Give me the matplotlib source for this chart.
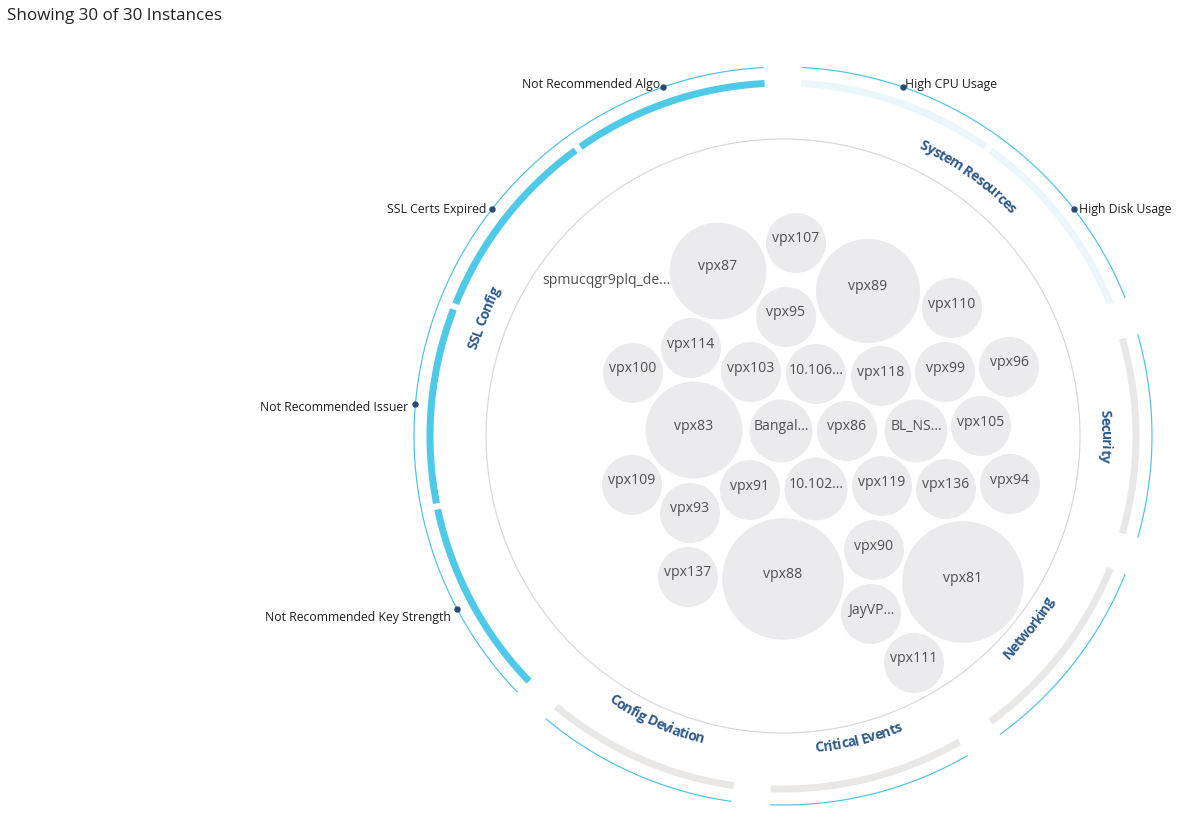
import numpy as np
import matplotlib.pyplot as plt
from matplotlib.font_manager import FontProperties
from matplotlib.textpath import TextToPath
from matplotlib.patches import Circle

# canvas in pixels, chart centre
W, H = 1185, 816
CX, CY = 783, 436
PT = 0.72  # px -> pt at dpi 100

# ---- data ----
categories = ['System Resources', 'Security', 'Networking',
              'Critical Events', 'Config Deviation', 'SSL Config']
indicators = [['High CPU Usage', 'High Disk Usage'],
              ['Security'],
              ['Networking'],
              ['Critical Events'],
              ['Config Deviation'],
              ['Not Recommended Key Strength', 'Not Recommended Issuer',
               'SSL Certs Expired', 'Not Recommended Algo']]
category_state = ['low', 'none', 'none', 'none', 'none', 'high']

bubble_names = ['vpx87', 'vpx107', 'vpx89', 'vpx110', 'spmucqgr9plq_de...',
                'vpx95', 'vpx114', 'vpx100', 'vpx103', '10.106...', 'vpx118',
                'vpx99', 'vpx96', 'vpx83', 'Bangal...', 'vpx86', 'BL_NS...',
                'vpx105', 'vpx109', 'vpx93', 'vpx91', '10.102...', 'vpx119',
                'vpx136', 'vpx94', 'vpx137', 'vpx88', 'vpx90', 'JayVP...',
                'vpx81', 'vpx111']
bubble_values = [2.6, 1, 3, 1, 0,
                 1, 1, 1, 1, 1, 1,
                 1, 1, 2.6, 1.1, 1, 1.1,
                 1, 1, 1, 1, 1.1, 1,
                 1, 1, 1, 4.1, 1, 1,
                 4.1, 1]
# packed layout (offsets from chart centre, px)
bubble_layout = [(-65, -165), (13, -193), (85, -145), (169, -128), (-177, -152),
                 (3, -119), (-92, -88), (-150, -63), (-32, -64), (33, -62), (98, -60),
                 (162, -64), (226, -69), (-89, -6), (-2, -5), (64, -5), (133, -5),
                 (198, -10), (-151, 49), (-93, 77), (-33, 54), (33, 53), (99, 50),
                 (163, 53), (227, 48), (-95, 141), (0, 143), (91, 114), (88, 178),
                 (180, 146), (131, 227)]

# ---- styles ----
THIN_COL = '#4ec3e6'
ARC_COL = {'high': '#4ec9e7', 'low': '#eaf6fc', 'none': '#e9e8e7'}
LABEL_COL = '#2f5b8a'
DOT_COL = '#2c4a70'
R_THICK, R_THIN, R_INNER, R_TEXT, R_DOTLBL = 353, 369, 297, 318, 376
CAT_GAP, SUB_GAP, START = 6.0, 1.0, 3.0

plt.rcParams['font.family'] = ['Open Sans', 'DejaVu Sans']


def pt(theta, r):
    t = np.radians(theta)
    return CX + r * np.sin(t), CY - r * np.cos(t)


def arc(ax, a0, a1, r, **kw):
    th = np.linspace(a0, a1, 200)
    x, y = pt(th, r)
    ax.plot(x, y, solid_capstyle='butt', **kw)


ttp = TextToPath()


def adv(s, fp):
    w1 = ttp.get_text_width_height_descent('I' + s + 'I', fp, ismath=False)[0]
    w0 = ttp.get_text_width_height_descent('II', fp, ismath=False)[0]
    return w1 - w0


def curved_text(ax, text, mid, r, size_px, color, track=0.9):
    fp = FontProperties(family='Open Sans', weight='bold', size=size_px)
    total = adv(text, fp) * track
    ccw = 90 < mid < 270
    for i, ch in enumerate(text):
        s = (adv(text[:i], fp) + adv(ch, fp) / 2) * track - total / 2
        d = np.degrees(s / r)
        th = mid - d if ccw else mid + d
        rot = 180 - th if ccw else -th
        x, y = pt(th, r)
        ax.text(x, y, ch, ha='center', va='baseline', rotation=rot,
                rotation_mode='anchor', fontsize=size_px * PT, color=color,
                family='Open Sans', weight='bold')


fig = plt.figure(figsize=(W / 100, H / 100), dpi=100)
ax = fig.add_axes([0, 0, 1, 1])
ax.set_xlim(0, W)
ax.set_ylim(H, 0)
ax.set_aspect('equal')
ax.axis('off')

# angle per indicator
n_ind = sum(len(v) for v in indicators)
n_sub_gaps = sum(len(v) - 1 for v in indicators)
unit = (360 - CAT_GAP * len(categories) - SUB_GAP * n_sub_gaps) / n_ind

a = START
for cat, inds, state in zip(categories, indicators, category_state):
    c0 = a
    for j, name in enumerate(inds):
        a0, a1 = a, a + unit
        arc(ax, a0, a1, R_THICK, color=ARC_COL[state], lw=7 * PT, zorder=2)
        if len(inds) > 1:
            m = (a0 + a1) / 2
            dx, dy = pt(m, R_THIN)
            ax.plot(dx, dy, 'o', ms=5 * PT, color=DOT_COL, zorder=4)
            lx, ly = pt(m, R_DOTLBL)
            left = m > 180
            ax.text(lx, ly + 3, name, ha='right' if left else 'left',
                    va='center_baseline', fontsize=12.3 * PT, color='#1e1e1e')
        a = a1 + (SUB_GAP if j < len(inds) - 1 else 0)
    c1 = a
    arc(ax, c0, c1, R_THIN, color=THIN_COL, lw=1.2 * PT, zorder=3)
    curved_text(ax, cat, (c0 + c1) / 2, R_TEXT, 14, LABEL_COL)
    a = c1 + CAT_GAP

# inner ring
ax.add_patch(Circle((CX, CY), R_INNER, fill=False, ec='#d9d9d9', lw=1.2 * PT, zorder=1))

# bubbles
for name, v, (ox, oy) in zip(bubble_names, bubble_values, bubble_layout):
    r = 30 * np.sqrt(v)
    if r > 0:
        ax.add_patch(Circle((CX + ox, CY + oy), r, fc='#ebebed', ec='none', zorder=2))
    ax.text(CX + ox, CY + oy - 4, name, ha='center', va='center',
            fontsize=14 * PT, color='#4f4f4f', zorder=3)

ax.text(7, 16, 'Showing 30 of 30 Instances', ha='left', va='center',
        fontsize=17 * PT, color='#222222')

fig.savefig('out.png', dpi=100)
